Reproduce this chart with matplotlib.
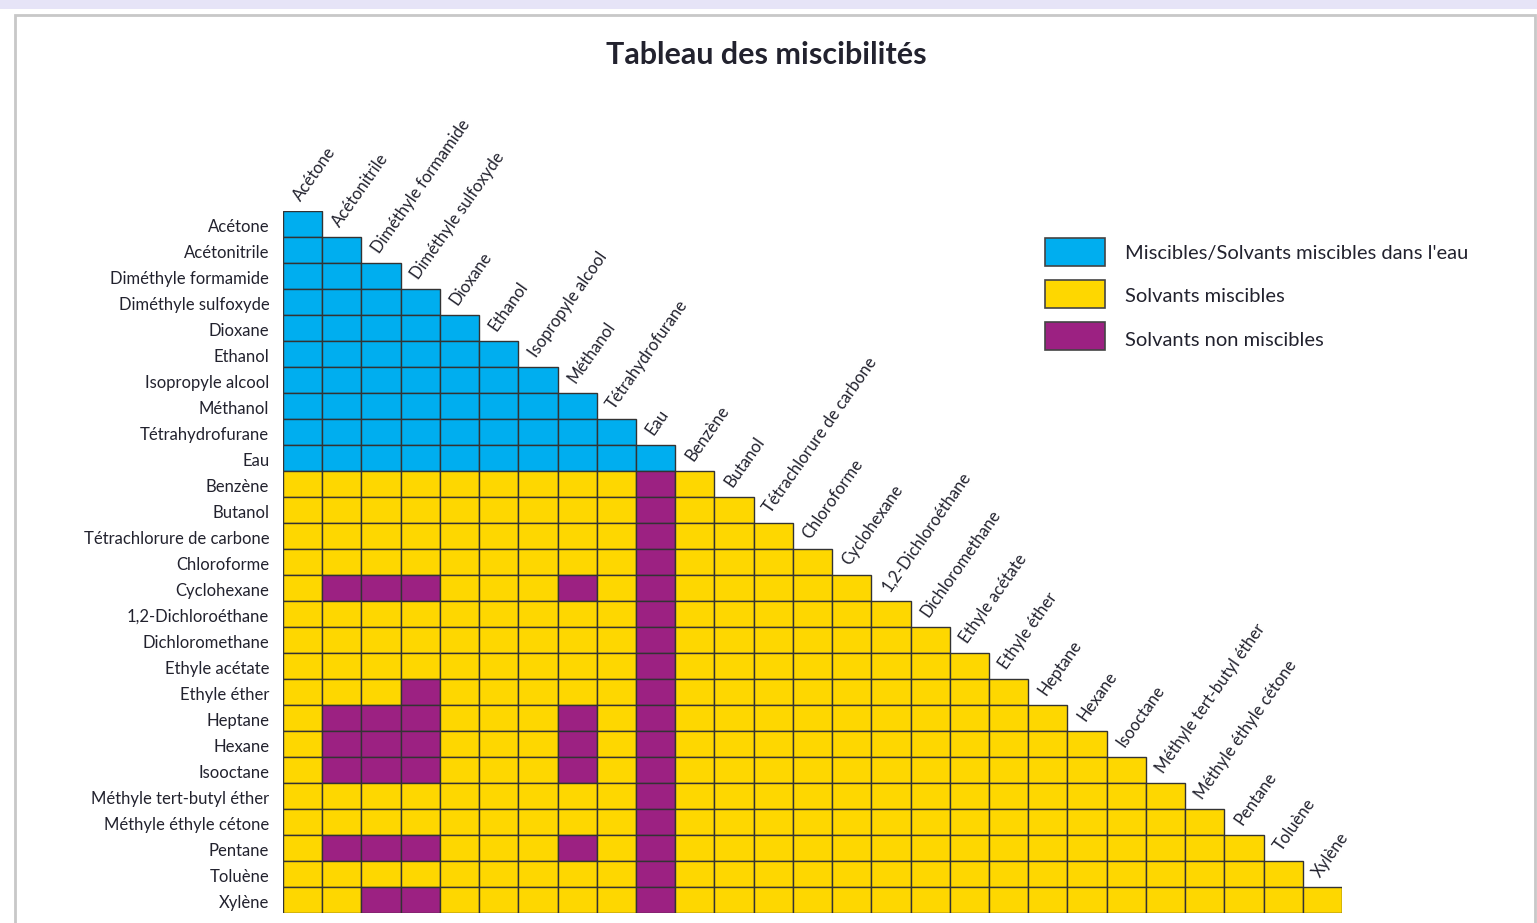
import numpy as np
import matplotlib.pyplot as plt
from matplotlib.patches import Rectangle

# solvents, in table order (rows and columns)
solvants = ["Acétone", "Acétonitrile", "Diméthyle formamide", "Diméthyle sulfoxyde",
            "Dioxane", "Ethanol", "Isopropyle alcool", "Méthanol", "Tétrahydrofurane",
            "Eau", "Benzène", "Butanol", "Tétrachlorure de carbone", "Chloroforme",
            "Cyclohexane", "1,2-Dichloroéthane", "Dichloromethane", "Ethyle acétate",
            "Ethyle éther", "Heptane", "Hexane", "Isooctane", "Méthyle tert-butyl éther",
            "Méthyle éthyle cétone", "Pentane", "Toluène", "Xylène"]

# first solvents miscible in water (blue block)
miscibles_eau = solvants[:10]

# non miscible pairs (row -> columns)
non_miscibles = {
    "Cyclohexane": ["Acétonitrile", "Diméthyle formamide", "Diméthyle sulfoxyde", "Méthanol"],
    "Ethyle éther": ["Diméthyle sulfoxyde"],
    "Heptane": ["Acétonitrile", "Diméthyle formamide", "Diméthyle sulfoxyde", "Méthanol"],
    "Hexane": ["Acétonitrile", "Diméthyle formamide", "Diméthyle sulfoxyde", "Méthanol"],
    "Isooctane": ["Acétonitrile", "Diméthyle formamide", "Diméthyle sulfoxyde", "Méthanol"],
    "Pentane": ["Acétonitrile", "Diméthyle formamide", "Diméthyle sulfoxyde", "Méthanol"],
    "Xylène": ["Diméthyle formamide", "Diméthyle sulfoxyde"],
}
# every solvent not miscible in water is non miscible with Eau
for s in solvants[10:]:
    non_miscibles.setdefault(s, []).append("Eau")

legende = ["Miscibles/Solvants miscibles dans l'eau", "Solvants miscibles",
           "Solvants non miscibles"]
couleurs = ["#00aeef", "#fed700", "#9c2182"]

n = len(solvants)
# 0 = blue, 1 = yellow, 2 = purple ; lower triangle only
cat = {}
for i, r in enumerate(solvants):
    for j, c in enumerate(solvants[:i + 1]):
        if c in non_miscibles.get(r, []):
            cat[(i, j)] = 2
        elif r in miscibles_eau and c in miscibles_eau:
            cat[(i, j)] = 0
        else:
            cat[(i, j)] = 1

plt.rcParams['font.family'] = ['Lato', 'DejaVu Sans']
txt = "#22222e"

fig = plt.figure(figsize=(15.37, 9.23), dpi=100)
W, H = 1537, 923

# page decorations: lavender strip at top, grey frame
fig.patches.append(Rectangle((0, 1 - 9 / H), 1, 9 / H, transform=fig.transFigure,
                             facecolor="#e6e4f7", edgecolor="none"))
fig.patches.append(Rectangle((15 / W, -0.05), 1520 / W, 1.05 - 15 / H,
                             transform=fig.transFigure, facecolor="none",
                             edgecolor="#c8c8c8", linewidth=2))

ax = fig.add_axes([283 / W, 1 - 913 / H, 1059 / W, 702 / H])
for (i, j), k in cat.items():
    ax.add_patch(Rectangle((j, i), 1, 1, facecolor=couleurs[k],
                           edgecolor="#333333", linewidth=1.0))
ax.set_xlim(0, n)
ax.set_ylim(n, 0)
ax.axis("off")

for i, s in enumerate(solvants):
    ax.text(-0.35, i + 0.6, s, ha="right", va="center", fontsize=12, color=txt)
    ax.text(i + 0.35, i - 0.45, s, ha="left", va="center", rotation=55,
            rotation_mode="anchor", fontsize=12, color=txt)

fig.text(766 / W, 1 - 55 / H, "Tableau des miscibilités", ha="center", va="center",
         fontsize=22, fontweight="bold", color=txt)

for k, (lab, col) in enumerate(zip(legende, couleurs)):
    y = 238 + 42 * k
    fig.patches.append(Rectangle((1045 / W, 1 - (y + 28) / H), 60 / W, 28 / H,
                                 transform=fig.transFigure, facecolor=col,
                                 edgecolor="#444444", linewidth=1.2))
    fig.text(1125 / W, 1 - (y + 15 + 1.5 * k) / H, lab, ha="left", va="center",
             fontsize=14.5, color=txt)

fig.savefig("out.png", dpi=100)
